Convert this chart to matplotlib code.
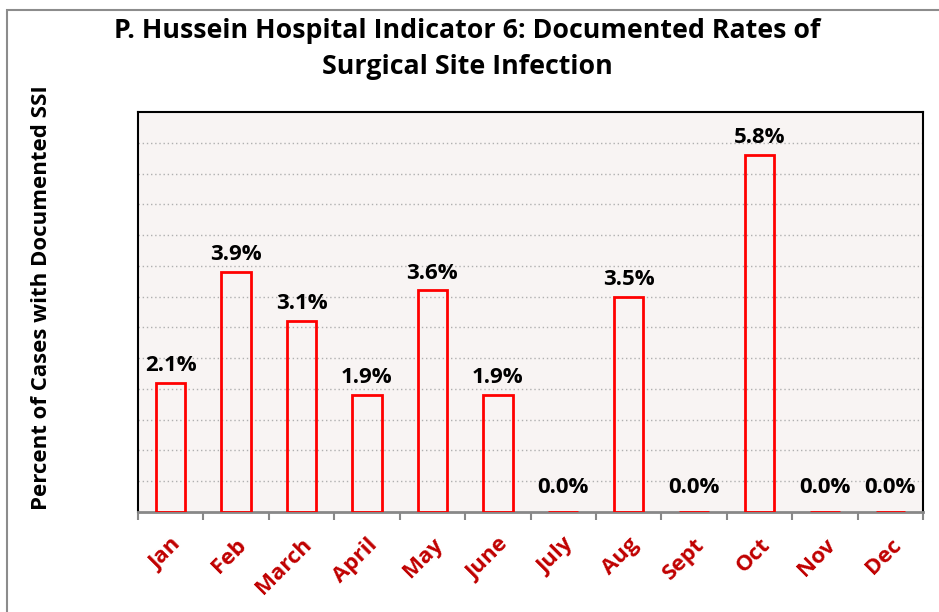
import matplotlib.pyplot as plt
from matplotlib.patches import Rectangle
from matplotlib.transforms import ScaledTranslation

# Monthly SSI rates (%)
months = ['Jan', 'Feb', 'March', 'April', 'May', 'June',
          'July', 'Aug', 'Sept', 'Oct', 'Nov', 'Dec']
rates = [2.1, 3.9, 3.1, 1.9, 3.6, 1.9, 0.0, 3.5, 0.0, 5.8, 0.0, 0.0]

plt.rcParams['font.family'] = ['Open Sans', 'DejaVu Sans']

fig = plt.figure(figsize=(9.39, 6.12), dpi=100)
ax = fig.add_axes([138 / 939, 1 - 512 / 612, 785 / 939, 400 / 612])

# outer frame of the chart object (right/bottom run off the picture)
fig.patches.append(Rectangle((7 / 939, -0.1), 1.2, (1 - 10 / 612) + 0.1,
                             transform=fig.transFigure, fill=False,
                             edgecolor='#8c8c8c', linewidth=1.5, clip_on=False))

ax.set_facecolor('#f8f4f3')
x = range(len(months))
bars = ax.bar(x, rates, width=0.45, facecolor='none', edgecolor='#ff0000',
              linewidth=2, zorder=3)

# value labels (zero labels sit a little higher, as in the original)
for xi, v in zip(x, rates):
    off = 10 if v == 0 else 5
    ax.annotate(f'{v:.1f}%', (xi, v), xytext=(0, off), textcoords='offset points',
                ha='center', va='bottom', fontsize=16, fontweight='bold',
                color='black', zorder=4)

ax.set_xlim(-0.5, 11.5)
ax.set_ylim(0, 6.5)
ax.set_yticks([i * 0.5 for i in range(1, 13)])
ax.yaxis.grid(True, linestyle=(0, (1, 2)), color='#b0b0b0', linewidth=1)
ax.tick_params(axis='y', left=False, labelleft=False)

# ticks on category boundaries, labels at centres
ax.set_xticks([i - 0.5 for i in range(13)])
ax.set_xticklabels([])
ax.set_xticks(list(x), minor=True)
ax.set_xticklabels(months, minor=True, rotation=45, ha='right',
                   rotation_mode='anchor', fontsize=16, fontweight='bold',
                   color='#c00000')
shift = ScaledTranslation(8 / 100, 0, fig.dpi_scale_trans)
for lbl in ax.get_xticklabels(minor=True):
    lbl.set_transform(lbl.get_transform() + shift)
ax.tick_params(axis='x', which='major', length=6, width=1.5, color='#888888',
               direction='out')
ax.tick_params(axis='x', which='minor', length=0, pad=16)

for s in ['left', 'top', 'right']:
    ax.spines[s].set_color('black')
    ax.spines[s].set_linewidth(1.5)
ax.spines['bottom'].set_color('#888888')
ax.spines['bottom'].set_linewidth(2)

ax.set_ylabel('Percent of Cases with Documented SSI', fontsize=16,
              fontweight='bold', labelpad=0)
ax.yaxis.set_label_coords(-86 / 785, 0.535)

fig.text(467 / 939, 1 - 49 / 612,
         'P. Hussein Hospital Indicator 6: Documented Rates of\nSurgical Site Infection',
         ha='center', va='center', fontsize=19.3, fontweight='bold',
         linespacing=1.45)

fig.savefig('out.png', dpi=100)
